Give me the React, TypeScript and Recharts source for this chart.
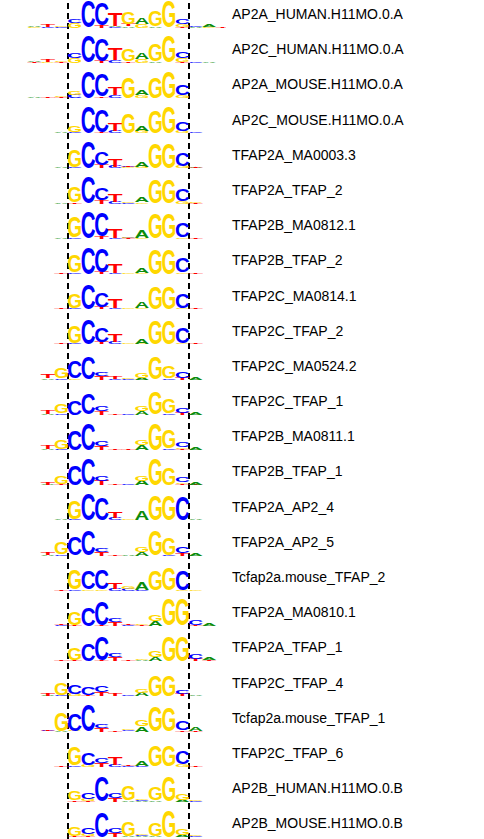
import React from 'react';
import { ScatterChart, Scatter, XAxis, YAxis, ReferenceLine } from 'recharts';

// motif names, top to bottom
const motifNames = [
  'AP2A_HUMAN.H11MO.0.A', 'AP2C_HUMAN.H11MO.0.A', 'AP2A_MOUSE.H11MO.0.A', 'AP2C_MOUSE.H11MO.0.A',
  'TFAP2A_MA0003.3', 'TFAP2A_TFAP_2', 'TFAP2B_MA0812.1', 'TFAP2B_TFAP_2', 'TFAP2C_MA0814.1',
  'TFAP2C_TFAP_2', 'TFAP2C_MA0524.2', 'TFAP2C_TFAP_1', 'TFAP2B_MA0811.1', 'TFAP2B_TFAP_1',
  'TFAP2A_AP2_4', 'TFAP2A_AP2_5', 'Tcfap2a.mouse_TFAP_2', 'TFAP2A_MA0810.1', 'TFAP2A_TFAP_1',
  'TFAP2C_TFAP_4', 'Tcfap2a.mouse_TFAP_1', 'TFAP2C_TFAP_6', 'AP2B_HUMAN.H11MO.0.B', 'AP2B_MOUSE.H11MO.0.B',
];

// logo positions -3 .. 11 (0..8 sit between the dashed lines)
const positions = [-3, -2, -1, 0, 1, 2, 3, 4, 5, 6, 7, 8, 9, 10, 11];

// each column: letters bottom -> top with height in bits
const logos: string[][] = [
  ['G.05A.08', 'C.05T.15', 'C.05G.1', 'G.38C.33', 'C2', 'T.15C1.7', 'C.05A.1T1', 'A.1T.2G.95', 'G.3A.45', 'A.1G1.2', 'G2', 'T.05G.2C.44', 'A.05C.08', 'G.05A.2', 'T.08'],
  ['T.05A.05', 'G.05T.2', 'T.05G.12', 'G.4C.4', 'C2', 'T.15C1.7', 'C.2T.9', 'T.1G.9', 'G.3A.5', 'A.1G1.35', 'G2', 'T.05G.3C.5', 'C.08', 'A.06', ''],
  ['A.05', 'G.03T.08', 'T.05G.05', 'C.25G.3', 'C2', 'T.1C1.7', 'C.2T.55', 'G1.6', 'G.2A.35', 'G1.65', 'G2', 'G.2C.8', '', '', ''],
  ['', 'T.03', 'A.05', 'C.1G.45', 'C2', 'T.1C1.75', 'C.2T.6', 'G1.55', 'G.2A.35', 'G1.7', 'G2', 'G.2C.75', 'C.08', '', ''],
  ['', '', 'A.05', 'C.1G1.3', 'C2', 'T.25C1', 'C.15T.6', 'G.08C.05T.08', 'G.15A.4', 'G1.9', 'G1.9', 'G.15C1', 'A.05T.05', '', ''],
  ['', '', 'A.04', 'T.1G1.25', 'C2', 'T.25C.9', 'C.15T.55', 'C.05G.1', 'G.1A.35', 'G1.8', 'G1.8', 'G.15C.9', 'T.05G.05', '', ''],
  ['', '', 'A.05', 'C.1G1.6', 'C2', 'T.15C1.8', 'C.1T.7', 'T.05C.05G.1', 'G.1A.55', 'G1.95', 'G1.95', 'G.1C1.1', 'T.05', '', ''],
  ['', '', 'T.08', 'C.1G1.3', 'C2', 'T.15C1.8', 'C.1T.7', 'G.1', 'G.1A.4', 'G1.9', 'G1.9', 'G.1C1.1', 'T.08', '', ''],
  ['', '', 'T.08', 'C.1G1.15', 'C1.95', 'T.15C1.15', 'C.1T.7', 'G.08', 'G.1A.45', 'G1.7', 'G1.7', 'G.1C1.1', 'T.05', '', ''],
  ['', '', 'T.08', 'C.1G1.3', 'C1.9', 'T.2C1.1', 'C.2T.55', 'G.08', 'G.05A.4', 'G1.85', 'G1.85', 'G.05C1.2', 'T.05', '', ''],
  ['', 'A.1T.3', 'C.1G.8', 'G.1C1.3', 'C1.75', 'T.3C.3', 'C.05T.2', 'C.04G.04', 'A.15G.35', 'G1.75', 'C.1G.9', 'T.15C.5', 'A.15', '', ''],
  ['', 'A.05T.25', 'C.1G.7', 'C1.1', 'C1.65', 'T.25C.4', 'T.1', 'C.05', 'A.3G.4', 'G1.7', 'C.1G1.15', 'T.15C.4', 'A.15', '', ''],
  ['', 'A.05T.25', 'C.1G.75', 'C1.5', 'C2', 'T.3C.4', 'T.1', 'T.05', 'A.35G.4', 'G2', 'C.1G1.4', 'T.1G.1C.4', 'A.15', '', ''],
  ['', 'A.05T.2', 'T.1G.65', 'C1.55', 'C2', 'T.35C.4', 'T.1', 'C.05', 'A.35G.4', 'G2', 'G1.3', 'T.1G.1C.4', 'T.05A.2', '', ''],
  ['', '', 'A.05', 'C.05G1.4', 'C2', 'C1.75', 'C.15T.45', 'G.1', 'A.7', 'G1.95', 'G1.95', 'C1.8', 'A.05', '', ''],
  ['', 'A.05T.15', 'C.1G.9', 'C1.4', 'C1.9', 'T.3C.3', 'T.1', 'A.08', 'A.3G.35', 'G1.9', 'C.05G1.3', 'T.15C.5', 'A.2', '', ''],
  ['', '', 'T.05', 'C.1G1.55', 'G.1C1.45', 'G.1C1.55', 'C.15T.5', 'C.15G.2', 'C.05A.6', 'G1.55', 'G1.7', 'G.05C1.5', 'G.08', '', ''],
  ['', '', 'C.04T.04', 'T.08G1', 'C1.4', 'T.05C1.85', 'T.3C.25', 'C.05T.05', 'T.05G.1', 'A.35G.5', 'G2', 'G2', 'T.1C.35', 'A.2', ''],
  ['', '', 'T.08', 'T.08G.9', 'C1.3', 'T.05C1.8', 'T.3C.25', 'T.1', 'A.05G.1', 'A.3G.5', 'G1.95', 'G1.95', 'T.15C.35', 'T.05A.2', ''],
  ['', 'A.05T.2', 'C.1G.9', 'G.15C.75', 'T.1C.6', 'T.3C.45', 'T.15', 'C.05', 'A.25G.3', 'G1.65', 'G1.65', 'T.15C.3', 'A.12', '', ''],
  ['', 'C.05T.12', 'A.05G1.4', 'G.05C1.3', 'C2', 'T.3C.3', 'T.1', 'C.08G.08', 'A.4G.5', 'G1.9', 'G1.8', 'T.1C.75', 'T.05A.25', '', ''],
  ['', '', 'T.08', 'C.08G1.4', 'G.15C.9', 'T.3C.4', 'C.15T.55', 'C.05T.05', 'C.05A.4', 'G1.65', 'G1.65', 'G.2C1', 'T.05', '', ''],
  ['', '', '', 'T.1G.75', 'T.05G.2C.45', 'C1.9', 'T.3C.4', 'A.1G1.15', 'A.1C.05G.1', 'A.1G1', 'G1.9', 'A.15G.5', 'C.1G.05', '', ''],
  ['', '', '', 'T.1G.75', 'T.05G.2C.45', 'C1.95', 'T.3C.4', 'A.1G1.15', 'A.1C.05G.1', 'A.1G1', 'G2', 'A.15G.5', 'C.1G.05', '', ''],
];

const letterColors: Record<string, string> = { A: '#0c8c0c', C: '#0000ff', G: '#ffd700', T: '#ff0000' };

const W = 484;
const H = 839;
const AXIS_W = 258;
const COL_PX = 121 / 9;
const BIT_PX = 13;
const ROW_STEP = 35.19 / BIT_PX;
const LABEL_OFF = 13.7 / BIT_PX;
const X_MIN = -68 / COL_PX;
const X_MAX = (W - AXIS_W - 68) / COL_PX;
const Y_MAX = 27.7 / BIT_PX;
const Y_MIN = Y_MAX - H / BIT_PX;

// glyph extents at font-size 100 (above / below baseline)
const glyph: Record<string, { top: number; bot: number }> = {
  A: { top: 69, bot: 0 },
  T: { top: 69, bot: 0 },
  C: { top: 70.5, bot: 1.3 },
  G: { top: 70.5, bot: 1.3 },
};

const points: any[] = [];
logos.forEach((row, r) => {
  row.forEach((col, i) => {
    let bottom = 0;
    for (const m of col.matchAll(/([ACGT])([\d.]+)/g)) {
      const h = parseFloat(m[2]);
      points.push({ x: positions[i] + 0.5, y: -r * ROW_STEP + bottom, h, letter: m[1] });
      bottom += h;
    }
  });
});

const labelTicks = motifNames.map((_, r) => -r * ROW_STEP + LABEL_OFF);

const Letter = (props: any) => {
  const { cx, cy, payload } = props;
  const g = glyph[payload.letter];
  const wPx = COL_PX * 1.1;
  const hPx = payload.h * BIT_PX;
  const sx = wPx / 70;
  const sy = hPx / (g.top + g.bot);
  return (
    <text
      transform={`translate(${cx - wPx / 2},${cy}) scale(${sx},${sy})`}
      x={0}
      y={-g.bot}
      fontSize={100}
      fontWeight="bold"
      fontFamily="'Liberation Sans', Arial, sans-serif"
      textLength={70}
      lengthAdjust="spacingAndGlyphs"
      fill={letterColors[payload.letter]}
    >
      {payload.letter}
    </text>
  );
};

const RowLabel = (props: any) => {
  const { x, y, payload } = props;
  return (
    <text x={x} y={y} dy={5} fontSize={14} fontFamily="'Liberation Sans', Arial, sans-serif" fill="#000">
      {motifNames[labelTicks.indexOf(payload.value)]}
    </text>
  );
};

export default function App() {
  return (
    <div style={{ position: 'absolute', left: 0, top: 0 }}>
      <ScatterChart width={W} height={H} margin={{ top: 0, right: 0, bottom: 0, left: 0 }}>
        <XAxis type="number" dataKey="x" domain={[X_MIN, X_MAX]} allowDataOverflow hide />
        <YAxis
          type="number"
          dataKey="y"
          orientation="right"
          width={AXIS_W}
          domain={[Y_MIN, Y_MAX]}
          allowDataOverflow
          ticks={labelTicks}
          interval={0}
          axisLine={false}
          tickLine={false}
          tickSize={0}
          tickMargin={6}
          tick={<RowLabel />}
        />
        <ReferenceLine x={0} stroke="#000" strokeWidth={2} strokeDasharray="6 4" />
        <ReferenceLine x={9} stroke="#000" strokeWidth={2} strokeDasharray="6 4" />
        <Scatter data={points} shape={<Letter />} isAnimationActive={false} />
      </ScatterChart>
    </div>
  );
}
